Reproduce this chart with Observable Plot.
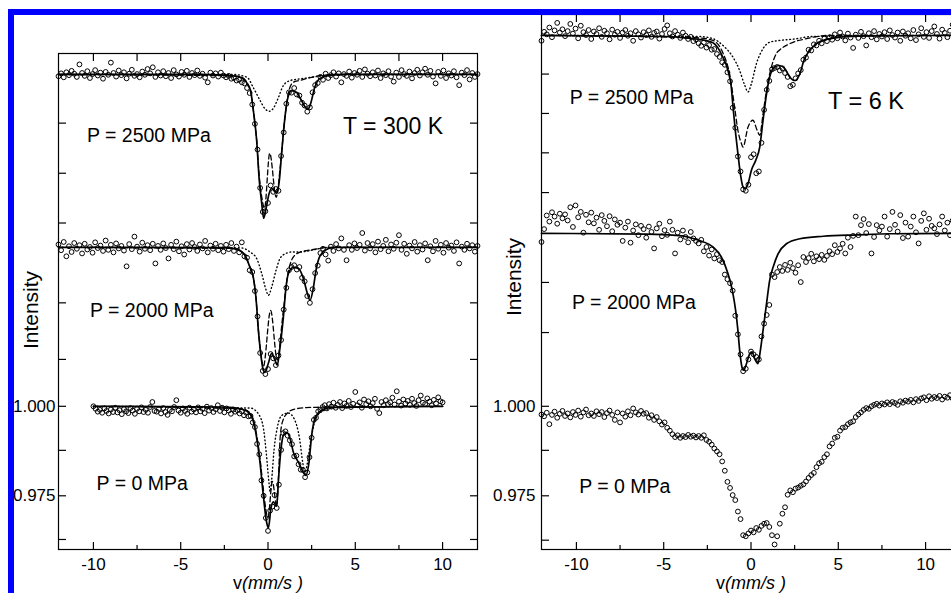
<!DOCTYPE html>
<html>
<head>
<meta charset="utf-8">
<script src="https://cdn.jsdelivr.net/npm/d3@7"></script>
<script src="https://cdn.jsdelivr.net/npm/@observablehq/plot@0.6"></script>
<style>
html,body{margin:0;padding:0;background:#fff;overflow:hidden;width:951px;height:593px;}
#wrap{position:relative;width:951px;height:593px;overflow:hidden;font-family:"Liberation Sans",Arial,sans-serif;color:#000;}
.panel{position:absolute;top:0;height:593px;}
.panel svg{max-width:none !important;display:block;}
.ylab{position:absolute;font-size:21px;white-space:nowrap;transform:translate(-50%,-50%) rotate(-90deg);line-height:21px;}
.xlab{position:absolute;font-size:18px;white-space:nowrap;transform:translateX(-50%);line-height:18px;}
#border{position:absolute;left:8px;top:9px;width:1000px;height:700px;border-left:6px solid #0000ff;border-top:6px solid #0000ff;pointer-events:none;}
</style>
</head>
<body>
<div id="wrap">
  <div id="left" class="panel" style="left:0px;width:480px"></div>
  <div id="right" class="panel" style="left:480px;width:490px"></div>
  <div class="ylab" style="left:30px;top:310px">Intensity</div>
  <div class="ylab" style="left:513px;top:277px">Intensity</div>
  <div class="xlab" style="left:268px;top:574px">v<i>(mm/s )</i></div>
  <div class="xlab" style="left:751px;top:574px">v<i>(mm/s )</i></div>
  <div id="border"></div>
</div>
<script>
// ---------- velocity channels (mm/s) ----------
const VA = [
-12,-11.85,-11.7,-11.55,-11.4,-11.25,-11.1,-10.95,-10.8,-10.65,
-10.5,-10.35,-10.2,-10.05,-9.9,-9.75,-9.6,-9.45,-9.3,-9.15,
-9,-8.85,-8.7,-8.55,-8.4,-8.25,-8.1,-7.95,-7.8,-7.65,
-7.5,-7.35,-7.2,-7.05,-6.9,-6.75,-6.6,-6.45,-6.3,-6.15,
-6,-5.85,-5.7,-5.55,-5.4,-5.25,-5.1,-4.95,-4.8,-4.65,
-4.5,-4.35,-4.2,-4.05,-3.9,-3.75,-3.6,-3.45,-3.3,-3.15,
-3,-2.85,-2.7,-2.55,-2.4,-2.25,-2.1,-1.95,-1.8,-1.65,
-1.5,-1.35,-1.2,-1.05,-0.9,-0.75,-0.6,-0.45,-0.3,-0.15,
0,0.15,0.3,0.45,0.6,0.75,0.9,1.05,1.2,1.35,
1.5,1.65,1.8,1.95,2.1,2.25,2.4,2.55,2.7,2.85,
3,3.15,3.3,3.45,3.6,3.75,3.9,4.05,4.2,4.35,
4.5,4.65,4.8,4.95,5.1,5.25,5.4,5.55,5.7,5.85,
6,6.15,6.3,6.45,6.6,6.75,6.9,7.05,7.2,7.35,
7.5,7.65,7.8,7.95,8.1,8.25,8.4,8.55,8.7,8.85,
9,9.15,9.3,9.45,9.6,9.75,9.9,10.05,10.2,10.35,
10.5,10.65,10.8,10.95,11.1,11.25,11.4,11.55,11.7,11.85,
12];
const VB = [
-10,-9.875,-9.75,-9.625,-9.5,-9.375,-9.25,-9.125,
-9,-8.875,-8.75,-8.625,-8.5,-8.375,-8.25,-8.125,
-8,-7.875,-7.75,-7.625,-7.5,-7.375,-7.25,-7.125,
-7,-6.875,-6.75,-6.625,-6.5,-6.375,-6.25,-6.125,
-6,-5.875,-5.75,-5.625,-5.5,-5.375,-5.25,-5.125,
-5,-4.875,-4.75,-4.625,-4.5,-4.375,-4.25,-4.125,
-4,-3.875,-3.75,-3.625,-3.5,-3.375,-3.25,-3.125,
-3,-2.875,-2.75,-2.625,-2.5,-2.375,-2.25,-2.125,
-2,-1.875,-1.75,-1.625,-1.5,-1.375,-1.25,-1.125,
-1,-0.875,-0.75,-0.625,-0.5,-0.375,-0.25,-0.125,
0,0.125,0.25,0.375,0.5,0.625,0.75,0.875,
1,1.125,1.25,1.375,1.5,1.625,1.75,1.875,
2,2.125,2.25,2.375,2.5,2.625,2.75,2.875,
3,3.125,3.25,3.375,3.5,3.625,3.75,3.875,
4,4.125,4.25,4.375,4.5,4.625,4.75,4.875,
5,5.125,5.25,5.375,5.5,5.625,5.75,5.875,
6,6.125,6.25,6.375,6.5,6.625,6.75,6.875,
7,7.125,7.25,7.375,7.5,7.625,7.75,7.875,
8,8.125,8.25,8.375,8.5,8.625,8.75,8.875,
9,9.125,9.25,9.375,9.5,9.625,9.75,9.875,
10];

// ---------- measured relative transmission ----------
// T = 300 K, P = 2500 MPa
const LT_I = [
0.9995,1.0003,0.9992,1.0006,0.9998,1.0010,1.0002,0.9993,1.0028,1.0004,
0.9996,1.0009,0.9990,1.0001,1.0012,0.9997,1.0005,0.9988,1.0007,0.9999,
1.0033,1.0004,0.9994,1.0011,0.9998,1.0006,0.9989,1.0002,1.0013,0.9996,
1.0001,0.9992,1.0008,0.9999,1.0015,1.0003,1.0020,0.9993,1.0006,0.9997,
1.0009,0.9995,1.0004,0.9990,1.0012,1.0000,0.9994,1.0007,0.9999,1.0010,
0.9993,1.0004,0.9998,1.0011,0.9996,1.0002,0.9991,0.9978,1.0005,0.9997,
1.0003,0.9994,1.0005,0.9997,0.9992,0.9996,0.9988,0.9990,0.9983,0.9985,
0.9978,0.9975,0.9962,0.9948,0.9916,0.9862,0.9790,0.9683,0.9616,0.9618,
0.9641,0.9690,0.9672,0.9680,0.9675,0.9772,0.9838,0.9918,0.9950,0.9949,
0.9962,0.9944,0.9941,0.9921,0.9913,0.9896,0.9908,0.9950,0.9970,0.9976,
0.9993,0.9985,1.0002,0.9990,0.9998,1.0006,0.9994,1.0003,0.9978,1.0001,
0.9996,1.0008,0.9991,1.0004,0.9999,1.0010,0.9993,1.0014,1.0002,0.9995,
1.0006,0.9997,1.0011,0.9990,1.0003,0.9998,1.0009,0.9994,0.9980,1.0005,
0.9993,1.0012,1.0001,0.9996,1.0008,0.9989,1.0004,1.0013,0.9997,1.0006,
1.0016,0.9999,1.0010,0.9994,0.9975,1.0007,0.9996,1.0011,0.9990,1.0003,
0.9997,1.0009,0.9992,0.9970,1.0005,0.9998,1.0012,0.9986,1.0004,0.9993,
1.0001];
// T = 300 K, P = 2000 MPa
const LM_I = [
1.0008,0.9992,1.0015,0.9975,1.0003,0.9987,1.0012,0.9996,1.0006,0.9983,
1.0010,0.9994,1.0001,0.9985,1.0014,0.9998,1.0005,0.9990,1.0019,0.9993,
1.0007,0.9986,1.0011,0.9997,1.0004,0.9991,0.9947,1.0009,0.9995,1.0030,
1.0002,0.9988,1.0013,0.9996,1.0006,0.9992,1.0010,0.9955,1.0004,0.9993,
1.0011,0.9998,0.9969,1.0007,0.9995,1.0016,0.9989,1.0003,0.9980,1.0009,
0.9994,1.0012,1.0001,0.9990,1.0008,0.9997,1.0018,0.9986,1.0005,0.9996,
1.0010,0.9992,1.0004,0.9988,1.0007,0.9995,1.0012,0.9990,1.0002,0.9986,
1.0014,0.9975,0.9971,0.9936,0.9931,0.9878,0.9807,0.9705,0.9655,0.9646,
0.9660,0.9702,0.9690,0.9671,0.9698,0.9741,0.9826,0.9887,0.9936,0.9945,
0.9950,0.9938,0.9945,0.9915,0.9905,0.9864,0.9845,0.9883,0.9928,0.9949,
0.9984,0.9996,0.9980,0.9963,1.0002,0.9990,1.0009,0.9997,1.0025,0.9993,
0.9964,1.0006,0.9993,1.0011,0.9998,1.0007,1.0040,0.9991,1.0012,0.9997,
1.0009,0.9986,1.0016,0.9995,1.0004,1.0021,0.9989,1.0008,0.9996,1.0013,
1.0034,0.9993,1.0010,0.9982,1.0005,0.9997,1.0015,0.9988,1.0006,0.9994,
1.0011,0.9964,1.0003,0.9989,1.0018,0.9996,1.0007,0.9985,1.0012,0.9999,
1.0005,0.9990,1.0014,0.9955,1.0002,0.9993,1.0010,0.9997,1.0006,0.9988,
1.0004];
// T = 300 K, P = 0 MPa
const LB_I = [
1.0000,0.9993,0.9985,0.9990,0.9982,0.9994,0.9987,0.9980,
0.9991,0.9984,0.9996,0.9983,0.9989,0.9978,0.9992,0.9986,
0.9981,0.9995,0.9988,0.9979,0.9993,0.9986,0.9997,0.9984,
0.9990,0.9982,0.9998,1.0012,0.9987,0.9985,0.9993,0.9980,
0.9995,0.9984,0.9976,0.9990,0.9986,0.9998,1.0017,0.9988,
0.9982,0.9994,0.9987,0.9979,0.9996,0.9985,0.9991,0.9983,
0.9997,0.9986,0.9993,0.9981,0.9999,0.9988,0.9995,0.9984,
0.9992,1.0003,0.9987,0.9996,0.9983,0.9994,0.9988,0.9979,
0.9991,0.9985,0.9989,0.9980,0.9986,0.9975,0.9982,0.9972,
0.9973,0.9955,0.9942,0.9895,0.9866,0.9793,0.9750,0.9688,
0.9652,0.9709,0.9720,0.9752,0.9716,0.9781,0.9878,0.9925,
0.9930,0.9918,0.9905,0.9894,0.9860,0.9862,0.9838,0.9823,
0.9822,0.9802,0.9815,0.9858,0.9912,0.9962,0.9968,0.9986,
0.9990,0.9998,1.0003,0.9994,1.0006,0.9999,1.0010,0.9996,
1.0004,1.0012,0.9995,1.0008,1.0001,1.0015,0.9998,1.0007,
1.0040,1.0003,1.0011,0.9996,1.0019,1.0006,1.0014,1.0000,
1.0009,1.0021,0.9993,0.9981,1.0012,1.0003,1.0017,1.0006,
1.0011,1.0024,1.0005,1.0042,1.0013,1.0002,1.0019,1.0008,
1.0015,1.0004,1.0021,1.0009,1.0001,1.0017,1.0030,1.0010,
1.0006,1.0022,1.0013,1.0003,1.0018,1.0008,1.0025,1.0014,
1.0011];
// T = 6 K, P = 2500 MPa
const RT_I = [
0.9985,1.0010,1.0003,1.0022,0.9995,1.0014,1.0035,1.0008,1.0017,0.9998,
1.0012,1.0032,1.0005,1.0019,0.9992,1.0027,1.0009,1.0001,1.0015,0.9990,
1.0011,1.0004,1.0020,0.9996,1.0013,1.0006,0.9989,1.0016,1.0002,1.0010,
0.9993,1.0008,1.0015,0.9999,1.0006,0.9985,1.0012,1.0003,0.9994,1.0009,
1.0001,1.0014,0.9996,1.0007,1.0011,0.9991,1.0004,1.0018,1.0028,1.0006,
0.9997,1.0012,1.0002,0.9993,1.0008,0.9999,0.9990,0.9996,0.9984,0.9989,
0.9978,0.9971,0.9980,0.9966,0.9973,0.9960,0.9962,0.9948,0.9940,0.9925,
0.9918,0.9897,0.9872,0.9798,0.9742,0.9662,0.9620,0.9570,0.9566,0.9583,
0.9660,0.9668,0.9615,0.9620,0.9700,0.9792,0.9848,0.9873,0.9905,0.9909,
0.9912,0.9902,0.9908,0.9895,0.9884,0.9858,0.9862,0.9880,0.9894,0.9903,
0.9932,0.9938,0.9960,0.9958,0.9975,0.9972,0.9985,0.9978,0.9991,0.9984,
0.9995,0.9988,1.0003,0.9992,1.0008,0.9997,0.9986,1.0005,0.9994,0.9965,
1.0002,0.9993,1.0010,0.9998,0.9972,1.0006,0.9995,1.0012,0.9989,1.0004,
0.9997,1.0009,0.9990,1.0014,1.0001,0.9994,1.0008,0.9985,1.0011,0.9999,
1.0006,0.9992,1.0015,0.9987,1.0003,1.0020,0.9996,1.0009,0.9993,1.0012,
1.0025,1.0004,0.9991,1.0016,1.0007,0.9995,1.0013,1.0030,1.0002,0.9988,
1.0010];
// T = 6 K, P = 2000 MPa
const RM_I = [
0.9976,1.0012,1.0050,1.0033,1.0059,1.0047,1.0027,1.0055,1.0042,1.0053,
1.0036,1.0073,1.0018,1.0078,1.0045,1.0060,1.0002,1.0052,1.0031,1.0058,
1.0028,1.0044,1.0010,1.0051,1.0035,1.0020,1.0048,1.0006,1.0039,1.0024,
1.0030,0.9979,1.0016,1.0033,0.9974,1.0008,1.0025,0.9995,1.0021,1.0012,
0.9988,1.0019,1.0004,0.9958,1.0014,1.0027,0.9992,1.0009,0.9996,1.0033,
1.0010,0.9944,1.0002,0.9983,1.0008,0.9990,0.9975,1.0004,0.9986,0.9979,
0.9972,0.9982,0.9950,0.9962,0.9938,0.9955,0.9930,0.9942,0.9925,0.9920,
0.9885,0.9872,0.9861,0.9840,0.9770,0.9718,0.9662,0.9615,0.9622,0.9648,
0.9670,0.9662,0.9655,0.9648,0.9712,0.9748,0.9772,0.9800,0.9885,0.9878,
0.9892,0.9906,0.9895,0.9912,0.9898,0.9918,0.9903,0.9890,0.9911,0.9864,
0.9934,0.9920,0.9931,0.9943,0.9922,0.9936,0.9928,0.9940,0.9926,0.9937,
0.9950,0.9942,0.9967,0.9948,0.9958,0.9971,0.9944,0.9988,0.9962,0.9993,
1.0047,0.9995,1.0023,1.0040,1.0001,1.0026,0.9944,0.9990,1.0023,1.0008,
1.0019,1.0047,0.9991,1.0012,1.0060,1.0024,1.0005,1.0051,0.9987,1.0030,
0.9991,1.0019,1.0047,1.0003,0.9972,1.0035,1.0056,1.0010,1.0041,1.0021,
1.0014,0.9998,1.0025,1.0047,1.0008,1.0030,0.9995,1.0036,1.0012,1.0041,
1.0020];
// T = 6 K, P = 0 MPa
const RB_I = [
0.9977,0.9972,0.9982,0.9950,0.9976,0.9985,0.9968,0.9979,0.9987,0.9973,
0.9980,0.9969,0.9984,0.9976,0.9988,0.9971,0.9983,0.9991,0.9975,0.9980,
0.9973,0.9986,0.9978,0.9984,0.9970,0.9981,0.9988,0.9976,0.9962,0.9983,
0.9955,0.9980,0.9971,0.9986,0.9975,0.9994,0.9983,0.9977,0.9987,0.9979,
0.9981,0.9968,0.9975,0.9962,0.9970,0.9958,0.9949,0.9955,0.9940,0.9932,
0.9922,0.9914,0.9919,0.9912,0.9917,0.9914,0.9920,0.9915,0.9918,0.9913,
0.9917,0.9912,0.9919,0.9906,0.9901,0.9893,0.9882,0.9874,0.9866,0.9846,
0.9820,0.9789,0.9772,0.9752,0.9738,0.9706,0.9685,0.9640,0.9637,0.9645,
0.9653,0.9648,0.9660,0.9655,0.9666,0.9672,0.9674,0.9663,0.9640,0.9614,
0.9637,0.9672,0.9700,0.9718,0.9753,0.9765,0.9760,0.9770,0.9773,0.9778,
0.9782,0.9790,0.9800,0.9808,0.9814,0.9830,0.9841,0.9845,0.9858,0.9866,
0.9888,0.9896,0.9912,0.9915,0.9932,0.9940,0.9942,0.9950,0.9955,0.9958,
0.9970,0.9977,0.9983,0.9990,0.9995,0.9993,1.0000,1.0004,1.0007,1.0002,
1.0008,1.0005,1.0011,1.0006,1.0012,1.0009,1.0004,1.0014,1.0010,1.0016,
1.0013,1.0018,1.0011,1.0020,1.0015,1.0022,1.0025,1.0017,1.0028,1.0021,
1.0026,1.0023,1.0029,1.0019,1.0027,1.0024,1.0031,1.0022,1.0028,1.0025,
1.0030];

// ---------- fitted curves [velocity, transmission] ----------
const LT_FIT = [[-12,1],[-4,1],[-3,0.9999],[-2,0.9996],[-1.5,0.9991],[-1.2,0.9975],[-1.0,0.9955],[-0.84,0.99],[-0.65,0.9816],[-0.5,0.9704],[-0.36,0.964],[-0.25,0.9598],[-0.1,0.9628],[0.05,0.9665],[0.2,0.9682],[0.35,0.9675],[0.5,0.9668],[0.65,0.9704],[0.78,0.978],[0.97,0.988],[1.1,0.9927],[1.35,0.9955],[1.63,0.995],[1.92,0.9927],[2.2,0.9905],[2.3,0.9903],[2.42,0.9915],[2.68,0.9964],[2.97,0.9989],[3.5,0.9997],[4.5,1],[12,1]];
const LT_SUB1 = [[-12,1],[-2,0.9996],[-1.5,0.9991],[-1.0,0.9955],[-0.84,0.99],[-0.65,0.9816],[-0.5,0.9715],[-0.35,0.9655],[-0.2,0.9626],[0.1,0.978],[0.47,0.9657],[0.7,0.9741],[0.97,0.988],[1.2,0.9955],[1.45,0.9978],[1.8,0.9983],[2.5,0.9992],[3,0.9997],[4,1],[12,1]];
const LT_SUB2 = [[-12,1],[-2,1],[-1.2,0.9992],[-0.84,0.9963],[-0.45,0.9927],[-0.17,0.9904],[0.08,0.9897],[0.34,0.9908],[0.6,0.9936],[0.88,0.9969],[1.27,0.9983],[1.6,0.9986],[2.5,0.9992],[3.2,0.9997],[4,1],[12,1]];

const LM_FIT = [[-12,1],[-2.5,0.9999],[-2,0.9997],[-1.4,0.9983],[-1.03,0.9944],[-0.84,0.9916],[-0.69,0.986],[-0.55,0.9768],[-0.42,0.9704],[-0.27,0.9657],[-0.17,0.9651],[0.02,0.9676],[0.21,0.9704],[0.4,0.9685],[0.53,0.9671],[0.69,0.9721],[0.88,0.9805],[1.03,0.9888],[1.17,0.9927],[1.45,0.9944],[1.74,0.9941],[2.02,0.9914],[2.25,0.9872],[2.41,0.9852],[2.6,0.9888],[2.75,0.9936],[2.94,0.9972],[3.27,0.9992],[3.74,1],[12,1]];
const LM_SUB1 = [[-12,1],[-2,0.9997],[-1.4,0.9983],[-1.03,0.9944],[-0.84,0.9916],[-0.69,0.986],[-0.55,0.9768],[-0.42,0.971],[-0.27,0.9666],[0.15,0.9824],[0.53,0.9685],[0.84,0.9806],[1.11,0.9917],[1.4,0.9969],[1.8,0.9986],[2.6,0.9994],[3.5,1],[12,1]];
const LM_SUB2 = [[-12,1],[-1.5,0.9998],[-1.03,0.9987],[-0.65,0.9969],[-0.36,0.9927],[-0.11,0.9881],[0.02,0.9866],[0.21,0.9889],[0.46,0.9936],[0.69,0.9969],[1.03,0.9983],[1.36,0.9987],[1.83,0.9987],[2.6,0.9993],[3.4,1],[12,1]];

const LB_FIT = [[-10,1],[-2.5,0.9998],[-1.5,0.9992],[-1.0,0.9978],[-0.75,0.9939],[-0.46,0.9844],[-0.27,0.9752],[-0.08,0.9676],[0.02,0.966],[0.17,0.9715],[0.3,0.9733],[0.5,0.9721],[0.59,0.9788],[0.75,0.9883],[0.88,0.9919],[1.07,0.9927],[1.26,0.9911],[1.45,0.9872],[1.74,0.9844],[2.02,0.9816],[2.16,0.9807],[2.35,0.9844],[2.5,0.9919],[2.7,0.9967],[3.07,0.9989],[3.65,0.9997],[10,1]];
const LB_SUB1 = [[-10,1],[-1.5,0.9993],[-1.0,0.998],[-0.75,0.9945],[-0.46,0.9855],[-0.27,0.977],[-0.08,0.97],[0.0,0.969],[0.25,0.979],[0.5,0.9721],[0.6,0.98],[0.7,0.9915],[0.85,0.996],[1.2,0.9985],[1.6,0.9993],[2.5,0.9997],[10,1]];
const LB_SUB2 = [[-10,1],[-1.0,0.9995],[-0.5,0.9975],[-0.25,0.9935],[-0.1,0.987],[0.05,0.979],[0.12,0.9762],[0.2,0.979],[0.35,0.988],[0.55,0.9945],[0.8,0.9975],[1.17,0.9981],[1.5,0.9965],[1.8,0.9912],[2.0,0.984],[2.12,0.9815],[2.25,0.984],[2.45,0.9905],[2.7,0.996],[3.1,0.9986],[4,0.9997],[10,1]];

const RT_FIT = [[-12,1],[-5,0.9997],[-4,0.9994],[-3,0.9989],[-2.2,0.998],[-1.61,0.9939],[-1.32,0.9902],[-1.13,0.9856],[-1.03,0.98],[-0.88,0.9726],[-0.75,0.967],[-0.61,0.9614],[-0.46,0.9577],[-0.36,0.9572],[-0.17,0.9586],[0.02,0.9623],[0.27,0.9651],[0.5,0.9688],[0.69,0.9763],[0.89,0.9837],[1.07,0.9884],[1.36,0.9912],[1.65,0.9916],[1.94,0.9907],[2.22,0.9884],[2.51,0.9874],[2.8,0.9893],[3.03,0.993],[3.28,0.9953],[3.76,0.9977],[4.52,0.9991],[6,0.9998],[12,1]];
const RT_SUB1 = [[-12,1],[-3,0.9993],[-2.18,0.9986],[-1.6,0.995],[-1.22,0.9891],[-0.94,0.98],[-0.75,0.9735],[-0.55,0.9698],[-0.46,0.9688],[-0.17,0.9744],[0.11,0.9763],[0.35,0.9735],[0.5,0.9721],[0.69,0.9781],[0.92,0.9856],[1.17,0.9912],[1.46,0.995],[1.61,0.9958],[2.22,0.9977],[3.18,0.9991],[4.5,1],[12,1]];
const RT_SUB2 = [[-12,1],[-3,0.9997],[-2.18,0.9991],[-1.61,0.9972],[-1.03,0.9939],[-0.65,0.9902],[-0.36,0.9861],[-0.17,0.9842],[0.02,0.9865],[0.31,0.9921],[0.69,0.9963],[1.07,0.9981],[1.65,0.9986],[2.5,0.999],[3.5,0.9997],[12,1]];

const RM_FIT = [[-12,1],[-6,0.9998],[-4.1,0.9994],[-2.95,0.998],[-2.18,0.9962],[-1.7,0.9934],[-1.32,0.9888],[-1.07,0.9841],[-0.88,0.9785],[-0.75,0.9729],[-0.65,0.9674],[-0.52,0.9627],[-0.42,0.9618],[-0.26,0.9636],[-0.07,0.9664],[0.06,0.9669],[0.21,0.965],[0.4,0.9636],[0.54,0.9674],[0.69,0.9729],[0.89,0.9804],[1.07,0.9869],[1.27,0.9906],[1.55,0.9943],[2.03,0.9971],[2.8,0.9985],[4.14,0.9992],[6.06,0.9996],[8,0.9999],[12,1]];

// ---------- axis ticks & labels ----------
const X_MAJOR = [-10,-5,0,5,10];
const X_MINOR = [-7.5,-2.5,2.5,7.5];
const X_ALL = [-10,-7.5,-5,-2.5,0,2.5,5,7.5,10];
const Y_LABELED = [0.975,1.000];
const LEFT_Y_TICKS = [1.0791,1.0651,1.0512,1.0289,1.0131,1.0,0.9877,0.975,0.9628];
const RIGHT_Y_TICKS = [1.0928,1.0818,1.0708,1.0597,1.0346,1.0206,1.0,0.9877,0.975,0.9626];
const LEFT_NOTES = ["P = 2500 MPa","T = 300 K","P = 2000 MPa","P = 0 MPa"];
const RIGHT_NOTES = ["P = 2500 MPa","T = 6 K","P = 2000 MPa","P = 0 MPa"];

// ---------- layout (stack offsets, annotation anchors) ----------
const STACK = {lt:0.0927, lm:0.0444, lb:0, rt:0.1036, rm:0.0483, rb:0};
const LEFT_NOTE_POS = [[-10.37,1.0757,19.5],[4.30,1.0782,23],[-10.2,1.0268,19.5],[-9.82,0.9784,19.5]];
const RIGHT_NOTE_POS = [[-10.38,1.0861,19.5],[4.41,1.0852,23.5],[-10.25,1.0289,19.5],[-9.84,0.9776,19.5]];

const FONT = '"Liberation Sans", Arial, sans-serif';

function table(V, I, off) { return V.map((v, i) => ({v, I: I[i] + off})); }
function dots(V, I, off) {
  return Plot.dot(table(V, I, off), {x: "v", y: "I", r: 2.4, stroke: "black", strokeWidth: 1, fill: "none"});
}
function curve(pts, off, kind) {
  const style = kind === "solid" ? {strokeWidth: 1.7}
    : kind === "dash" ? {strokeWidth: 1.3, strokeDasharray: "5,3"}
    : {strokeWidth: 1.4, strokeDasharray: "0.8,2.8", strokeLinecap: "round"};
  return Plot.line(pts, {x: d => d[0], y: d => d[1] + off, curve: "monotone-x", stroke: "black", ...style});
}
function notes(texts, pos) {
  return texts.map((t, i) => Plot.text([t], {x: [pos[i][0]], y: [pos[i][1]], text: d => d, textAnchor: "start", lineAnchor: "middle", fontSize: pos[i][2], fill: "black"}));
}
function axes(yTicks, pad) {
  return [
    Plot.frame({stroke: "black", strokeWidth: 1.2}),
    Plot.axisX({ticks: X_MAJOR, anchor: "bottom", tickSize: 7, dy: -7, fill: "none", label: null, strokeWidth: 1.2}),
    Plot.axisX({ticks: X_MINOR, anchor: "bottom", tickSize: 4, dy: -4, fill: "none", label: null, strokeWidth: 1.2}),
    Plot.axisX({ticks: X_ALL, anchor: "top", tickSize: 7, dy: 7, fill: "none", label: null, strokeWidth: 1.2}),
    Plot.axisX({ticks: X_MAJOR, anchor: "bottom", tickSize: 0, tickPadding: 8, tickFormat: d => String(d), label: null, fontSize: 17}),
    Plot.axisY({ticks: yTicks, anchor: "left", tickSize: 8, dx: 8, fill: "none", label: null, strokeWidth: 1.2}),
    Plot.axisY({ticks: yTicks, anchor: "right", tickSize: 8, dx: -8, fill: "none", label: null, strokeWidth: 1.2}),
    Plot.axisY({ticks: Y_LABELED, anchor: "left", tickSize: 0, tickPadding: pad, tickFormat: d3.format(".3f"), label: null, fontSize: 17})
  ];
}

const PX_PER_UNIT = 3580;
const leftPlot = Plot.plot({
  width: 480, height: 593, marginLeft: 58, marginRight: 3, marginTop: 53, marginBottom: 44,
  x: {domain: [-12, 12], axis: null},
  y: {domain: [0.96, 0.96 + 496 / PX_PER_UNIT], axis: null},
  style: {fontFamily: FONT, fontSize: "17px", background: "transparent", color: "black", overflow: "visible", maxWidth: "none"},
  marks: [
    dots(VA, LT_I, STACK.lt), dots(VA, LM_I, STACK.lm), dots(VB, LB_I, STACK.lb),
    curve(LT_SUB2, STACK.lt, "dot"), curve(LT_SUB1, STACK.lt, "dash"), curve(LT_FIT, STACK.lt, "solid"),
    curve(LM_SUB2, STACK.lm, "dot"), curve(LM_SUB1, STACK.lm, "dash"), curve(LM_FIT, STACK.lm, "solid"),
    curve(LB_SUB2, STACK.lb, "dot"), curve(LB_SUB1, STACK.lb, "dash"), curve(LB_FIT, STACK.lb, "solid"),
    ...axes(LEFT_Y_TICKS, 3),
    ...notes(LEFT_NOTES, LEFT_NOTE_POS)
  ]
});
document.getElementById("left").append(leftPlot);

const rightPlot = Plot.plot({
  width: 490, height: 593, marginLeft: 61, marginRight: 10, marginTop: 14, marginBottom: 44,
  x: {domain: [-12, 12], axis: null},
  y: {domain: [0.96, 0.96 + 535 / PX_PER_UNIT], axis: null},
  style: {fontFamily: FONT, fontSize: "17px", background: "transparent", color: "black", overflow: "visible", maxWidth: "none"},
  marks: [
    dots(VA, RT_I, STACK.rt), dots(VA, RM_I, STACK.rm), dots(VA, RB_I, STACK.rb),
    curve(RT_SUB2, STACK.rt, "dot"), curve(RT_SUB1, STACK.rt, "dash"), curve(RT_FIT, STACK.rt, "solid"),
    curve(RM_FIT, STACK.rm, "solid"),
    ...axes(RIGHT_Y_TICKS, 6),
    ...notes(RIGHT_NOTES, RIGHT_NOTE_POS)
  ]
});
document.getElementById("right").append(rightPlot);
</script>
</body>
</html>
